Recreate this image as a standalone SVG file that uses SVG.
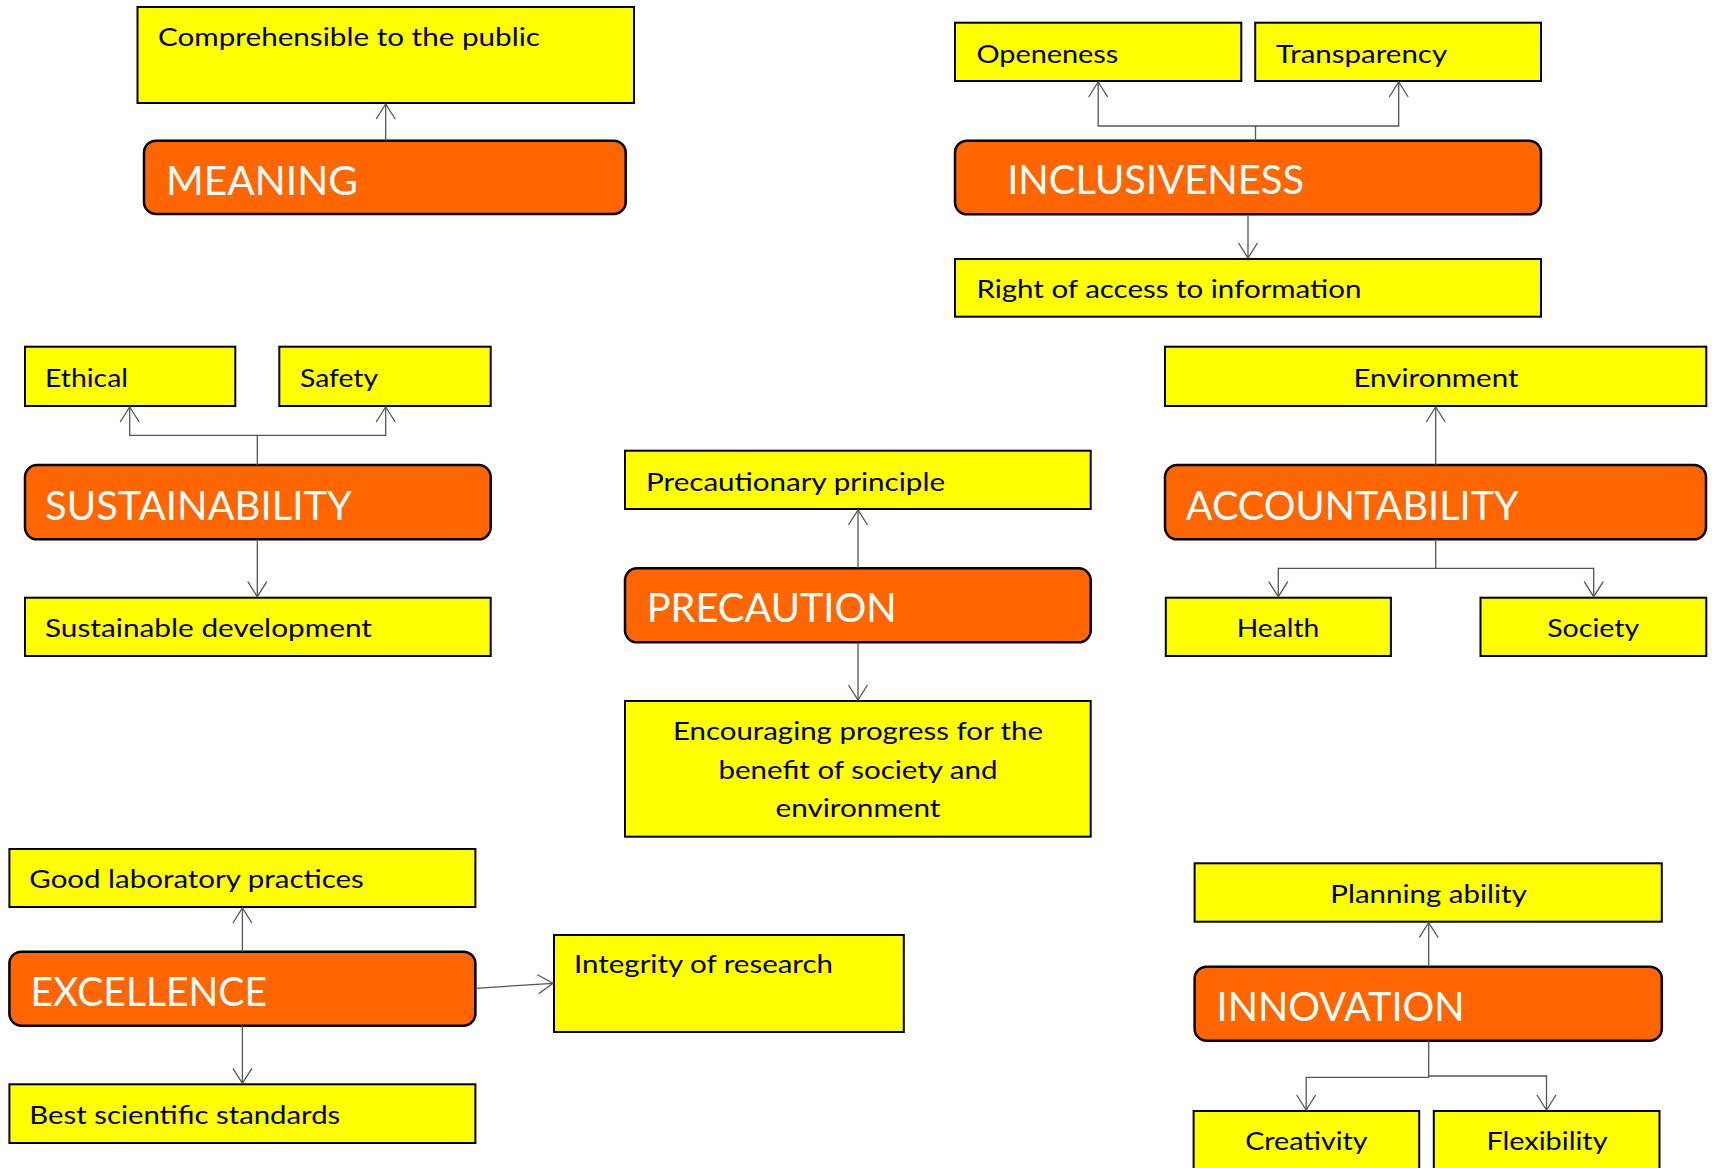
<svg xmlns="http://www.w3.org/2000/svg" width="1712" height="1168" viewBox="0 0 1712 1168">
<style>
.box{fill:#FFFF00;stroke:#000;stroke-width:2}
.main{fill:#FF6600;stroke:#000;stroke-width:2.5}
.t{font-family:Lato,"Open Sans","Liberation Sans",sans-serif;font-size:25px;fill:#000}
.c{text-anchor:middle}
.m{font-family:Lato,"Open Sans","Liberation Sans",sans-serif;font-size:41px;fill:#fff}
.conn path{fill:none;stroke:#555;stroke-width:1.3}
</style>
<defs>
<marker id="arr" viewBox="-17 -11 18 22" refX="0" refY="0" markerWidth="18" markerHeight="22" markerUnits="userSpaceOnUse" orient="auto">
<path d="M-15,-9.5 L0,0 L-15,9.5" fill="none" stroke="#555" stroke-width="1.3"/>
</marker>
</defs>
<rect width="1712" height="1168" fill="#fff"/>

<g id="n-comprehensible"><rect class="box" x="137.5" y="7" width="496.5" height="96"/><text class="t" x="158" y="46" textLength="382" lengthAdjust="spacingAndGlyphs">Comprehensible to the public</text></g>
<g id="n-meaning"><rect class="main" x="144" y="140.7" width="481.7" height="73.3" rx="12"/><text class="m" x="166" y="195" textLength="192" lengthAdjust="spacingAndGlyphs">MEANING</text></g>

<g id="n-openeness"><rect class="box" x="955" y="22.7" width="286.3" height="58.3"/><text class="t" x="976.4" y="62.7" textLength="142" lengthAdjust="spacingAndGlyphs">Openeness</text></g>
<g id="n-transparency"><rect class="box" x="1255.2" y="22.7" width="285.8" height="58.3"/><text class="t" x="1276.1" y="62.7" textLength="171" lengthAdjust="spacingAndGlyphs">Transparency</text></g>
<g id="n-inclusiveness"><rect class="main" x="955" y="140.7" width="586" height="73.6" rx="12"/><text class="m" x="1007.2" y="194.3" textLength="297" lengthAdjust="spacingAndGlyphs">INCLUSIVENESS</text></g>
<g id="n-right"><rect class="box" x="955" y="259" width="586" height="57.7"/><text class="t" x="976.4" y="297.7" textLength="385" lengthAdjust="spacingAndGlyphs">Right of access to information</text></g>

<g id="n-ethical"><rect class="box" x="25" y="346.7" width="210.3" height="59.3"/><text class="t" x="45" y="386.7" textLength="83" lengthAdjust="spacingAndGlyphs">Ethical</text></g>
<g id="n-safety"><rect class="box" x="279.3" y="346.7" width="211.4" height="59.3"/><text class="t" x="300" y="386.7" textLength="78" lengthAdjust="spacingAndGlyphs">Safety</text></g>
<g id="n-sustainability"><rect class="main" x="25" y="465" width="465.7" height="74.3" rx="12"/><text class="m" x="45" y="520" textLength="307" lengthAdjust="spacingAndGlyphs">SUSTAINABILITY</text></g>
<g id="n-sustdev"><rect class="box" x="25" y="597.7" width="465.7" height="58.3"/><text class="t" x="45" y="636.7" textLength="327" lengthAdjust="spacingAndGlyphs">Sustainable development</text></g>

<g id="n-precprinciple"><rect class="box" x="625" y="450.7" width="465.7" height="58.3"/><text class="t" x="646" y="491" textLength="299" lengthAdjust="spacingAndGlyphs">Precautionary principle</text></g>
<g id="n-precaution"><rect class="main" x="625" y="568.3" width="465.7" height="74" rx="12"/><text class="m" x="646.7" y="622.3" textLength="250" lengthAdjust="spacingAndGlyphs">PRECAUTION</text></g>
<g id="n-encouraging"><rect class="box" x="625" y="701" width="465.7" height="135.7"/>
<text class="t c" x="858" y="740" textLength="370" lengthAdjust="spacingAndGlyphs">Encouraging progress for the</text>
<text class="t c" x="858" y="779.3" textLength="279" lengthAdjust="spacingAndGlyphs">benefit of society and</text>
<text class="t c" x="858" y="816.7" textLength="165" lengthAdjust="spacingAndGlyphs">environment</text></g>

<g id="n-environment"><rect class="box" x="1165" y="346.7" width="541.3" height="59.3"/><text class="t c" x="1436" y="386.7" textLength="165" lengthAdjust="spacingAndGlyphs">Environment</text></g>
<g id="n-accountability"><rect class="main" x="1165" y="465" width="541" height="74.3" rx="12"/><text class="m" x="1185.8" y="520" textLength="333" lengthAdjust="spacingAndGlyphs">ACCOUNTABILITY</text></g>
<g id="n-health"><rect class="box" x="1165.8" y="597.7" width="225.1" height="58.3"/><text class="t c" x="1278" y="636.7" textLength="82.5" lengthAdjust="spacingAndGlyphs">Health</text></g>
<g id="n-society"><rect class="box" x="1480.5" y="597.7" width="225.8" height="58.3"/><text class="t c" x="1593.2" y="636.7" textLength="92" lengthAdjust="spacingAndGlyphs">Society</text></g>

<g id="n-goodlab"><rect class="box" x="9.4" y="849" width="466" height="58"/><text class="t" x="29.3" y="888.3" textLength="334.5" lengthAdjust="spacingAndGlyphs">Good laboratory practices</text></g>
<g id="n-excellence"><rect class="main" x="9.4" y="951.7" width="466" height="74" rx="12"/><text class="m" x="30.5" y="1005.7" textLength="236.5" lengthAdjust="spacingAndGlyphs">EXCELLENCE</text></g>
<g id="n-bestsci"><rect class="box" x="9.4" y="1084.3" width="466" height="58.7"/><text class="t" x="29.3" y="1124.3" textLength="311" lengthAdjust="spacingAndGlyphs">Best scientific standards</text></g>
<g id="n-integrity"><rect class="box" x="554" y="935" width="349.8" height="97"/><text class="t" x="574" y="973.3" textLength="259" lengthAdjust="spacingAndGlyphs">Integrity of research</text></g>

<g id="n-planning"><rect class="box" x="1194.6" y="863.3" width="467.2" height="58.4"/><text class="t c" x="1428.6" y="903.3" textLength="196.5" lengthAdjust="spacingAndGlyphs">Planning ability</text></g>
<g id="n-innovation"><rect class="main" x="1194.6" y="966.7" width="467.2" height="74" rx="12"/><text class="m" x="1216.6" y="1020.7" textLength="248" lengthAdjust="spacingAndGlyphs">INNOVATION</text></g>
<g id="n-creativity"><rect class="box" x="1193.6" y="1111" width="225.6" height="70"/><text class="t c" x="1306.4" y="1150" textLength="122.4" lengthAdjust="spacingAndGlyphs">Creativity</text></g>
<g id="n-flexibility"><rect class="box" x="1433.8" y="1111" width="225.7" height="70"/><text class="t c" x="1547" y="1150" textLength="121.2" lengthAdjust="spacingAndGlyphs">Flexibility</text></g>

<g id="connectors" class="conn">
<path d="M385.7,140.7 V104" marker-end="url(#arr)"/>
<path d="M1255.5,140.7 V126 H1098.2 V82" marker-end="url(#arr)"/>
<path d="M1255.5,126 H1398.7 V82" marker-end="url(#arr)"/>
<path d="M1248,214.3 V258" marker-end="url(#arr)"/>
<path d="M257.3,465 V435.3 H129.7 V407" marker-end="url(#arr)"/>
<path d="M257.3,435.3 H385.7 V407" marker-end="url(#arr)"/>
<path d="M257.3,539.3 V596.7" marker-end="url(#arr)"/>
<path d="M858,568.3 V510" marker-end="url(#arr)"/>
<path d="M858,642.3 V700" marker-end="url(#arr)"/>
<path d="M1435.7,465 V407" marker-end="url(#arr)"/>
<path d="M1435.7,539.3 V568.3 H1278.3 V596.7" marker-end="url(#arr)"/>
<path d="M1435.7,568.3 H1593.7 V596.7" marker-end="url(#arr)"/>
<path d="M242.4,951.7 V908" marker-end="url(#arr)"/>
<path d="M242.4,1025.7 V1083.3" marker-end="url(#arr)"/>
<path d="M475.4,988.3 L553,983.3" marker-end="url(#arr)"/>
<path d="M1428.7,966.7 V922.7" marker-end="url(#arr)"/>
<path d="M1428.7,1040.7 V1077.3 H1306.2 V1110" marker-end="url(#arr)"/>
<path d="M1428.7,1076 H1546.5 V1110" marker-end="url(#arr)"/>
</g>
</svg>
